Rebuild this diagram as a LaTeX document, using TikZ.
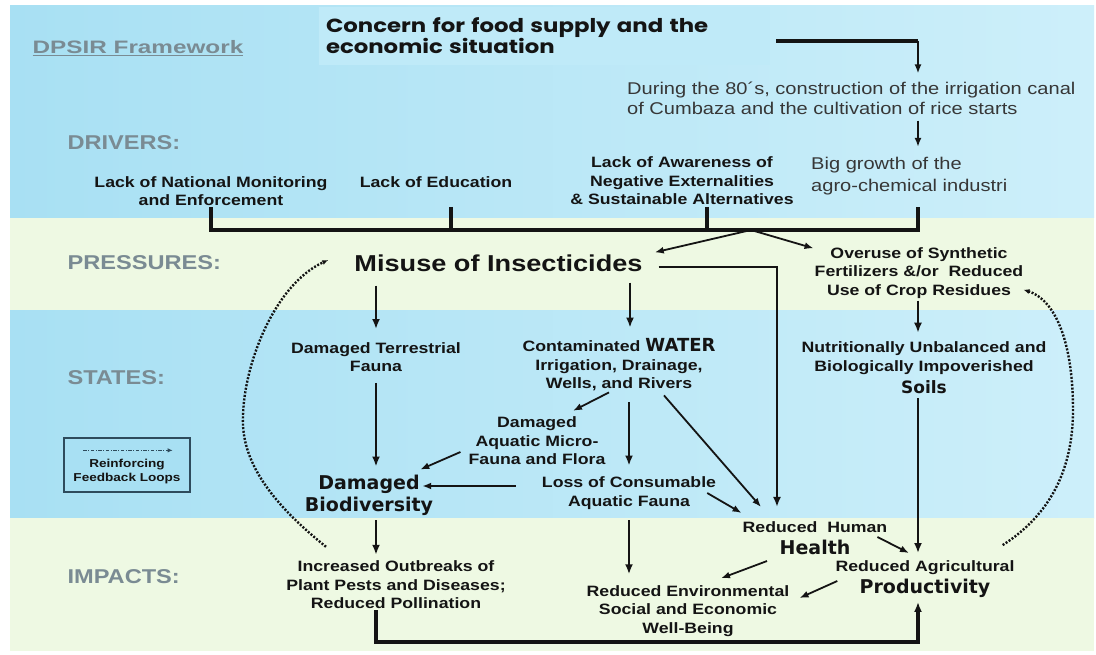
\documentclass[tikz,border=0pt]{standalone}
\usepackage{fontspec}
\setmainfont{Liberation Sans}
\newfontfamily\lblfont[FakeStretch=1.18]{Liberation Sans}
\newfontfamily\dpsfont[FakeStretch=1.35]{Liberation Sans}
\newfontfamily\widefont{DejaVu Sans}
\newfontfamily\headfont[FakeStretch=1.2]{Poppins}
\newcommand{\heavy}{\widefont\bfseries\fontsize{19}{22}\selectfont}
\usepackage{tikz}
\usetikzlibrary{arrows.meta}

\definecolor{bandblue}{HTML}{A8E0F3}
\definecolor{bandpale}{HTML}{CDEFFA}
\definecolor{bandgreen}{HTML}{EEF9E3}
\definecolor{conbox}{HTML}{BFEAF8}
\definecolor{catgray}{HTML}{7A8B93}
\definecolor{ink}{HTML}{141414}
\definecolor{legline}{HTML}{2E4B5C}

\begin{document}
\begin{tikzpicture}[>=Latex, x=1pt, y=-1pt,
    cat/.style={anchor=west, text=catgray, font=\lblfont\bfseries\fontsize{20}{22}\selectfont},
    lbl/.style={align=center, text=ink, inner sep=1pt, font=\lblfont\bfseries\fontsize{15}{18.5}\selectfont},
    note/.style={anchor=west, align=left, text=ink!85, inner sep=0pt, font=\lblfont\fontsize{17}{20}\selectfont},
    concern/.style={fill=conbox, text width=437pt, minimum height=58pt, inner sep=7pt, align=left, text=ink,
        font=\headfont\bfseries\fontsize{19}{21}\selectfont},
    arr/.style={-{Latex[length=10pt,width=8pt]}, line width=2.8pt, draw=ink},
    tarr/.style={-{Latex[length=9pt,width=7pt]}, line width=1.8pt, draw=ink},
    bar/.style={line width=3.4pt, draw=ink},
    loop/.style={-{Latex[length=6pt,width=5pt]}, line width=2.4pt, dash pattern=on 2pt off 1.6pt, draw=ink},
    legarr/.style={-{Latex[length=5pt,width=4.5pt]}, line width=1.2pt, dash pattern=on 3.5pt off 1.5pt on 1pt off 1.5pt, draw=legline}]

    \useasboundingbox (0,0) rectangle (1096,655);

    % 1. Bands: drivers, pressures, states, impacts
    \fill[white] (0,0) rectangle (1096,655);
    \shade[left color=bandblue, right color=bandpale] (10,6) rectangle (1094,218);
    \fill[bandgreen] (10,218) rectangle (1094,311);
    \shade[left color=bandblue, right color=bandpale] (10,311) rectangle (1094,518);
    \fill[bandgreen] (10,518) rectangle (1094,651);

    % 2. Drivers
    \node[text=catgray, font=\dpsfont\bfseries\fontsize{18}{20}\selectfont] (dpsir) at (138,48) {\underline{DPSIR Framework}};
    \node[concern] (concern) at (544.5,36) {Concern for food supply and the\\economic situation};
    \node[note] (during) at (627,98) {During the 80´s, construction of the irrigation canal\\of Cumbaza and the cultivation of rice starts};
    \node[note] (growth) at (811,176) {Big growth of the\\[2pt]agro-chemical industri};
    \node[cat] (drv) at (64,143) {DRIVERS:};
    \node[lbl] (natmon) at (211,191) {Lack of National Monitoring\\and Enforcement};
    \node[lbl] (educ) at (436,182) {Lack of Education};
    \node[lbl] (aware) at (682,181) {Lack of Awareness of\\Negative Externalities\\\& Sustainable Alternatives};

    \coordinate (col) at (918,0);
    \coordinate (jn) at (751,230);
    \coordinate (conout) at ([yshift=-5pt]concern.east);
    \coordinate (educdrop) at ([xshift=15pt]educ.south);
    \coordinate (awaredrop) at ([xshift=25pt]aware.south);

    \draw[bar] ([xshift=6pt]conout) -- (conout -| col);
    \draw[tarr, shorten >=8pt] (conout -| col) -- (col |- during.north);
    \draw[tarr, shorten <=6pt, shorten >=10pt] (col |- during.south) -- (col |- growth.north);

    \draw[bar] (natmon.south) |- (jn) -| (col |- natmon.south);
    \draw[bar] (educdrop |- natmon.south) -- (educdrop |- jn);
    \draw[bar] (awaredrop |- natmon.south) -- (awaredrop |- jn);

    % 3. Pressures
    \node[cat] (prs) at (64,263) {PRESSURES:};
    \node[text=ink, inner sep=2pt, font=\lblfont\bfseries\fontsize{23}{26}\selectfont] (misuse) at (498.5,263) {Misuse of Insecticides};
    \node[lbl] (overuse) at (919,273) {Overuse of Synthetic\\Fertilizers \&/or\ \ Reduced\\Use of Crop Residues};

    \draw[tarr] (jn) -- ([xshift=10pt]misuse.north east);
    \draw[tarr] (jn) -- ([yshift=-2pt]overuse.north west);

    % 4. States
    \node[cat] (sts) at (64,378) {STATES:};
    \node[lbl] (terr) at (376,357) {Damaged Terrestrial\\Fauna};
    \node[lbl] (contam) at (619,365) {Contaminated {\heavy\fontsize{18}{21}\selectfont WATER}\\Irrigation, Drainage,\\Wells, and Rivers};
    \node[lbl] (soils) at (924,368) {Nutritionally Unbalanced and\\Biologically Impoverished\\[4pt]{\heavy\fontsize{17}{20}\selectfont Soils}};
    \node[lbl] (aquatic) at (537,441) {Damaged\\Aquatic Micro-\\Fauna and Flora};
    \node[lbl] (loss) at (629,493) {Loss of Consumable\\Aquatic Fauna};
    \node[align=center, text=ink, inner sep=1pt, font=\heavy] (biodiv) at (369,495) {Damaged\\Biodiversity};

    \node[draw=legline, line width=1.3pt, fill=bandblue, minimum width=126pt, minimum height=54pt] (legend) at (127,465) {};
    \node[text=ink, align=center, font=\lblfont\bfseries\fontsize{11.5}{14}\selectfont] (legtxt) at (127,472) {Reinforcing\\Feedback Loops};
    \draw[legarr] ([shift={(20,13)}]legend.north west) -- ([shift={(-18,13)}]legend.north east);

    \coordinate (wcol) at ([xshift=11pt]contam.north);
    \draw[arr, shorten <=12pt, shorten >=12pt] (misuse.south -| terr.north) -- (terr.north);
    \draw[arr, shorten <=9pt, shorten >=10pt] (misuse.south -| wcol) -- (wcol);
    \draw[arr, shorten <=1pt, shorten >=8pt] (col |- overuse.south) -- (col |- soils.north);

    \draw[arr, shorten <=10pt, shorten >=7pt] (terr.south) -- (terr.south |- biodiv.north);
    \draw[tarr] ([xshift=-10pt]contam.south) -- ([shift={(36,-5)}]aquatic.north);
    \draw[arr, shorten <=10pt, shorten >=10pt] (contam.south -| loss.north) -- (loss.north);
    \draw[tarr] ([shift={(-7,11)}]aquatic.west) -- ([shift={(-14,-4)}]biodiv.north east);
    \draw[tarr] ([shift={(-25,-7)}]loss.west) -- ([shift={(-12,-9)}]biodiv.east);

    % 5. Impacts
    \node[cat] (imp) at (64,577) {IMPACTS:};
    \node[lbl] (health) at (815,538) {Reduced\ \ Human\\[4pt]{\heavy Health}};
    \node[lbl] (agri) at (925,579) {Reduced Agricultural\\[4pt]{\heavy Productivity}};
    \node[lbl] (env) at (688,611) {Reduced Environmental\\Social and Economic\\Well-Being};
    \node[lbl] (pests) at (396,585) {Increased Outbreaks of\\Plant Pests and Diseases;\\Reduced Pollination};

    \draw[arr, line width=2.4pt] ([shift={(14,4)}]misuse.east) -| ([shift={(-38,-13)}]health.north);
    \draw[tarr] ([shift={(45,3)}]contam.south) -- ([shift={(-54,-13)}]health.north);
    \draw[tarr] ([xshift=-10pt]loss.east) -- ([yshift=7pt]health.north west);
    \draw[tarr] ([shift={(-11,-1)}]health.east) -- ([shift={(-16,-6)}]agri.north);
    \draw[tarr] ([shift={(-48,5)}]health.south) -- ([shift={(33,-6)}]env.north);
    \draw[tarr] ([shift={(3,2)}]agri.west) -- ([shift={(9,-13)}]env.east);
    \draw[arr, shorten <=3pt, shorten >=6pt] (col |- soils.south) -- (col |- agri.north);
    \draw[arr, shorten <=4pt, shorten >=5pt] (terr.south |- biodiv.south) -- (terr.south |- pests.north);
    \draw[arr, shorten <=10pt, shorten >=10pt] (loss.south) -- (loss.south |- env.north);

    \coordinate (base) at (0,642);
    \draw[arr, line width=3.2pt, shorten >=3pt] (terr.south |- pests.south) -- (terr.south |- base) -| (col |- agri.south);

    % 6. Reinforcing feedback loops
    \draw[loop] ([shift={(-70,-13)}]pests.north) .. controls +(-46,-37) and +(2,45) .. (243,425)
        .. controls +(-2,-55) and +(-55,25) .. ([shift={(-24,-3)}]misuse.west);
    \draw[loop] ([shift={(-13,-14)}]agri.north east) .. controls +(47,-30) and +(0,60) .. (1073,410)
        .. controls +(0,-70) and +(31,10) .. ([shift={(-1,-10)}]overuse.south east);
\end{tikzpicture}
\end{document}
